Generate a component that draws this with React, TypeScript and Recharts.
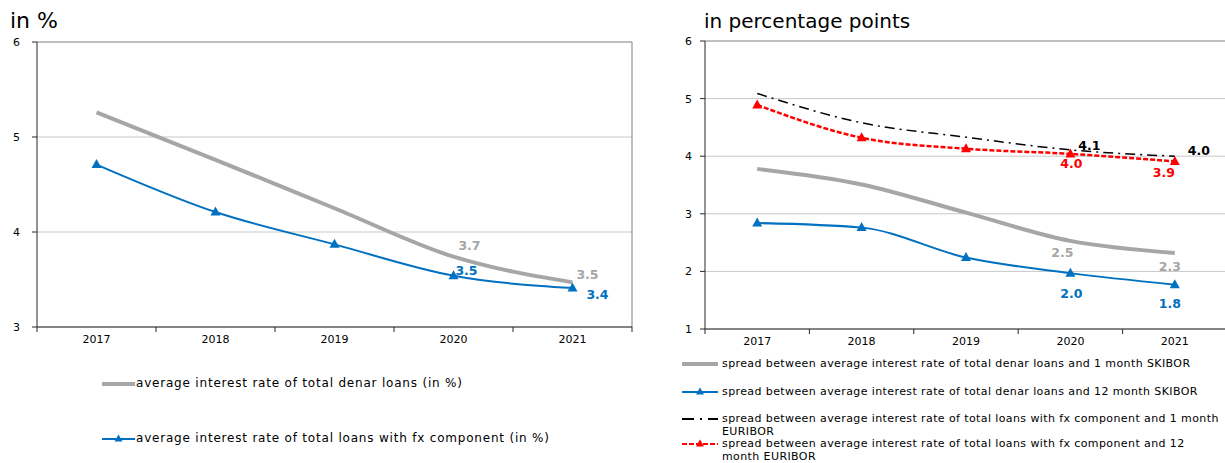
import { LineChart, Line, XAxis, YAxis, CartesianGrid, LabelList } from 'recharts'

const years = ['2017', '2018', '2019', '2020', '2021']

// left panel, in %
const denarRate = [5.26, 4.76, 4.25, 3.74, 3.47]
const fxRate = [4.71, 4.21, 3.87, 3.54, 3.41]
const leftTicks = [3, 4, 5, 6]

// right panel, in percentage points
const spreadDenar1m = [3.78, 3.51, 3.02, 2.53, 2.32]
const spreadDenar12m = [2.84, 2.76, 2.24, 1.97, 1.77]
const spreadFx1m = [5.09, 4.58, 4.33, 4.11, 4.0]
const spreadFx12m = [4.89, 4.32, 4.13, 4.04, 3.91]
const rightTicks = [1, 2, 3, 4, 5, 6]

const leftData = years.map((year, i) => ({ year, denar: denarRate[i], fx: fxRate[i] }))
const rightData = years.map((year, i) => ({
  year,
  d1: spreadDenar1m[i],
  d12: spreadDenar12m[i],
  f1: spreadFx1m[i],
  f12: spreadFx12m[i],
}))

const FONT = '"DejaVu Sans", Verdana, sans-serif'
const GRAY = '#A6A6A6'
const BLUE = '#0070C0'
const RED = '#FF0000'
const AXIS = '#262626'
const FRAME = '#7F7F7F'
const GRID = '#C8C8C8'

function triangleDot(color: string) {
  return (p: any) => (
    <path
      key={`t-${p.index}`}
      d={`M${p.cx},${p.cy - 5.5}L${p.cx + 5},${p.cy + 3.5}L${p.cx - 5},${p.cy + 3.5}Z`}
      fill={color}
      stroke="none"
    />
  )
}

// label offsets (dx, dy) from the point, only the last two years are labelled
function valueLabel(color: string, offsets: Record<number, [number, number]>) {
  return (p: any) => {
    const off = offsets[p.index]
    if (!off) return null
    return (
      <text
        key={`l-${p.index}`}
        x={p.x + off[0]}
        y={p.y + off[1]}
        textAnchor="middle"
        dominantBaseline="central"
        fill={color}
        fontFamily={FONT}
        fontSize={12.5}
        fontWeight="bold"
      >
        {Number(p.value).toFixed(1)}
      </text>
    )
  }
}

function yearTick(bw: number, axisY: number, last: number) {
  return (p: any) => {
    const { x, y, payload, index } = p
    return (
      <g>
        <line x1={x - bw / 2} x2={x - bw / 2} y1={axisY} y2={axisY + 5} stroke={AXIS} />
        {index === last && <line x1={x + bw / 2} x2={x + bw / 2} y1={axisY} y2={axisY + 5} stroke={AXIS} />}
        <text x={x} y={y} dy="0.71em" textAnchor="middle" fill="#000" fontFamily={FONT} fontSize={11}>
          {payload.value}
        </text>
      </g>
    )
  }
}

// gridline renderer: the top line of the plot is the darker frame
function gridLine(topY: number) {
  return (p: any) => (
    <line
      key={p.key ?? `g-${p.index}`}
      x1={p.x1}
      x2={p.x2}
      y1={p.y1}
      y2={p.y2}
      stroke={Math.abs(p.y1 - topY) < 1 && p.y1 === p.y2 ? FRAME : GRID}
      strokeWidth={1}
    />
  )
}

function frameLine(p: any) {
  return <line key={p.key ?? `v-${p.index}`} x1={p.x1} x2={p.x2} y1={p.y1} y2={p.y2} stroke={FRAME} strokeWidth={1} />
}

function Swatch({ color, width, dash, marker, w, gap }: any) {
  return (
    <svg width={w} height={12} style={{ flex: 'none', marginRight: gap }}>
      <line x1={0} x2={w} y1={6} y2={6} stroke={color} strokeWidth={width} strokeDasharray={dash} />
      {marker && <path d={`M${w / 2},1.5L${w / 2 + 4},8.5L${w / 2 - 4},8.5Z`} fill={color} />}
    </svg>
  )
}

function LegendItem({ top, left, lines, swatch, size, spacing }: any) {
  return (
    <div
      style={{
        position: 'absolute', top, left, display: 'flex', alignItems: 'flex-start', whiteSpace: 'nowrap',
        fontFamily: FONT, fontSize: size, letterSpacing: spacing, lineHeight: '13px', color: '#000',
      }}
    >
      <div style={{ marginTop: 0.5 }}>{swatch}</div>
      <div>
        {lines.map((t: string, i: number) => (
          <div key={i}>{t}</div>
        ))}
      </div>
    </div>
  )
}

export default function App() {
  const lbw = 595 / 5
  const rbw = 522 / 5
  return (
    <div style={{ position: 'absolute', left: 0, top: 0, width: 1225, height: 463, overflow: 'hidden', background: '#fff' }}>
      <div style={{ position: 'absolute', left: 10, top: 8, fontFamily: FONT, fontSize: 22, lineHeight: 'normal' }}>in %</div>
      <div style={{ position: 'absolute', left: 704, top: 9, fontFamily: FONT, fontSize: 20, lineHeight: 'normal' }}>in percentage points</div>

      <div style={{ position: 'absolute', left: 0, top: 0 }}>
        <LineChart width={640} height={360} data={leftData} margin={{ top: 42, right: 8, left: 7, bottom: 3 }}>
          <CartesianGrid horizontal={gridLine(42)} vertical={frameLine} verticalPoints={[632]} />
          <XAxis
            dataKey="year"
            interval={0}
            padding={{ left: lbw / 2, right: lbw / 2 }}
            axisLine={{ stroke: AXIS }}
            tickLine={false}
            tickSize={5}
            tickMargin={3}
            height={30}
            tick={yearTick(lbw, 327, years.length - 1)}
          />
          <YAxis
            domain={[3, 6]}
            ticks={leftTicks}
            width={30}
            axisLine={{ stroke: AXIS }}
            tickLine={{ stroke: AXIS }}
            tickSize={5}
            tickMargin={12}
            tick={{ fill: '#000', fontFamily: FONT, fontSize: 11 }}
          />
          <Line type="monotone" dataKey="denar" stroke={GRAY} strokeWidth={4} dot={false} isAnimationActive={false}>
            <LabelList dataKey="denar" content={valueLabel(GRAY, { 3: [16, -11], 4: [15, -8] })} />
          </Line>
          <Line type="monotone" dataKey="fx" stroke={BLUE} strokeWidth={2} dot={triangleDot(BLUE)} isAnimationActive={false}>
            <LabelList dataKey="fx" content={valueLabel(BLUE, { 3: [13, -5], 4: [25, 6] })} />
          </Line>
        </LineChart>
      </div>

      <div style={{ position: 'absolute', left: 640, top: 0 }}>
        <LineChart width={600} height={360} data={rightData} margin={{ top: 41, right: 13, left: 35, bottom: 1 }}>
          <CartesianGrid horizontal={gridLine(41)} vertical={false} />
          <XAxis
            dataKey="year"
            interval={0}
            padding={{ left: rbw / 2, right: rbw / 2 }}
            axisLine={{ stroke: AXIS }}
            tickLine={false}
            tickSize={5}
            tickMargin={3}
            height={30}
            tick={yearTick(rbw, 329, years.length - 1)}
          />
          <YAxis
            domain={[1, 6]}
            ticks={rightTicks}
            width={30}
            axisLine={{ stroke: AXIS }}
            tickLine={{ stroke: AXIS }}
            tickSize={5}
            tickMargin={8}
            tick={{ fill: '#000', fontFamily: FONT, fontSize: 11 }}
          />
          <Line type="monotone" dataKey="d1" stroke={GRAY} strokeWidth={4} dot={false} isAnimationActive={false}>
            <LabelList dataKey="d1" content={valueLabel(GRAY, { 3: [-8, 12], 4: [-5, 14] })} />
          </Line>
          <Line type="monotone" dataKey="d12" stroke={BLUE} strokeWidth={2} dot={triangleDot(BLUE)} isAnimationActive={false}>
            <LabelList dataKey="d12" content={valueLabel(BLUE, { 3: [1, 20], 4: [-5, 19] })} />
          </Line>
          <Line type="monotone" dataKey="f1" stroke="#000" strokeWidth={1.5} strokeDasharray="10 5 2 5" dot={false} isAnimationActive={false}>
            <LabelList dataKey="f1" content={valueLabel('#000', { 3: [19, -4], 4: [24, -6] })} />
          </Line>
          <Line type="monotone" dataKey="f12" stroke={RED} strokeWidth={2.5} strokeDasharray="5 2" dot={triangleDot(RED)} isAnimationActive={false}>
            <LabelList dataKey="f12" content={valueLabel(RED, { 3: [1, 10], 4: [-11, 11] })} />
          </Line>
        </LineChart>
      </div>

      <LegendItem top={377} left={102} size={12} spacing={0.8}
        swatch={<Swatch color={GRAY} width={4} w={33} gap={1} />}
        lines={['average interest rate of total denar loans (in %)']} />
      <LegendItem top={432} left={102} size={12} spacing={0.8}
        swatch={<Swatch color={BLUE} width={2} marker w={33} gap={1} />}
        lines={['average interest rate of total loans with fx component (in %)']} />

      <LegendItem top={357} left={682} size={11} spacing={0.4}
        swatch={<Swatch color={GRAY} width={4} w={36} gap={4} />}
        lines={['spread between average interest rate of total denar loans and 1 month SKIBOR']} />
      <LegendItem top={385} left={682} size={11} spacing={0.4}
        swatch={<Swatch color={BLUE} width={2} marker w={36} gap={4} />}
        lines={['spread between average interest rate of total denar loans and 12 month SKIBOR']} />
      <LegendItem top={412} left={682} size={11} spacing={0.4}
        swatch={<Swatch color="#000" width={2} dash="12 6 2 6" w={36} gap={4} />}
        lines={['spread between average interest rate of total loans with fx component and 1 month', 'EURIBOR']} />
      <LegendItem top={437} left={682} size={11} spacing={0.4}
        swatch={<Swatch color={RED} width={2} dash="5 2" marker w={36} gap={4} />}
        lines={['spread between average interest rate of total loans with fx component and 12', 'month EURIBOR']} />
    </div>
  )
}
